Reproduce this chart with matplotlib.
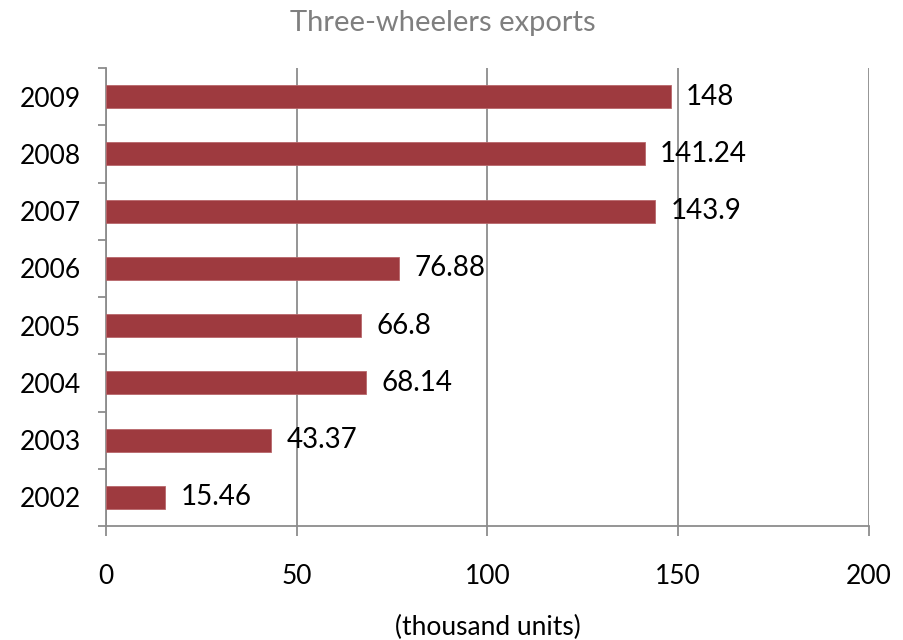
import matplotlib.pyplot as plt

years = ['2002', '2003', '2004', '2005', '2006', '2007', '2008', '2009']
exports = [15.46, 43.37, 68.14, 66.8, 76.88, 143.9, 141.24, 148]
value_labels = ['15.46', '43.37', '68.14', '66.8', '76.88', '143.9', '141.24', '148']
x_ticks = [0, 50, 100, 150, 200]

plt.rcParams['font.family'] = ['Lato', 'DejaVu Sans']

fig = plt.figure(figsize=(9.04, 6.4), dpi=100)
ax = fig.add_axes([106 / 904, 1 - 526 / 640, (869 - 106) / 904, (526 - 68) / 640])

pos = list(range(len(years)))
ax.barh(pos, exports, height=0.4, color='#9e3a3f', edgecolor='#b8676b',
        linewidth=0.6, zorder=3)

for p, v, lab in zip(pos, exports, value_labels):
    ax.annotate(lab, (v, p), xytext=(11, 0), textcoords='offset points',
                va='center', ha='left', fontsize=20, color='black', zorder=4)

ax.set_xlim(0, 200)
ax.set_ylim(-0.5, len(years) - 0.5)
ax.set_xticks(x_ticks)
ax.set_xticklabels([str(t) for t in x_ticks], fontsize=19)
ax.xaxis.grid(True, color='#8c8c8c', linewidth=1.3, zorder=0)

# category labels centred on bars, tick marks between categories
ax.set_yticks(pos)
ax.set_yticklabels(years, fontsize=19)
ax.set_yticks([p - 0.5 for p in range(len(years) + 1)], minor=True)
ax.tick_params(axis='y', which='major', length=0, pad=18)
ax.tick_params(axis='y', which='minor', length=6, width=1.3, color='#8c8c8c', direction='out')
ax.tick_params(axis='x', which='major', length=7, width=1.3, color='#8c8c8c', direction='out', pad=20)

for side in ['top', 'right']:
    ax.spines[side].set_visible(False)
for side in ['left', 'bottom']:
    ax.spines[side].set_color('#8c8c8c')
    ax.spines[side].set_linewidth(1.3)

ax.set_xlabel('(thousand units)', fontsize=19, labelpad=19)
fig.text(0.49, 1 - 23 / 640, 'Three-wheelers exports', ha='center', va='center',
         fontsize=21, color='#7f7f7f')

fig.savefig('out.png', dpi=100)
